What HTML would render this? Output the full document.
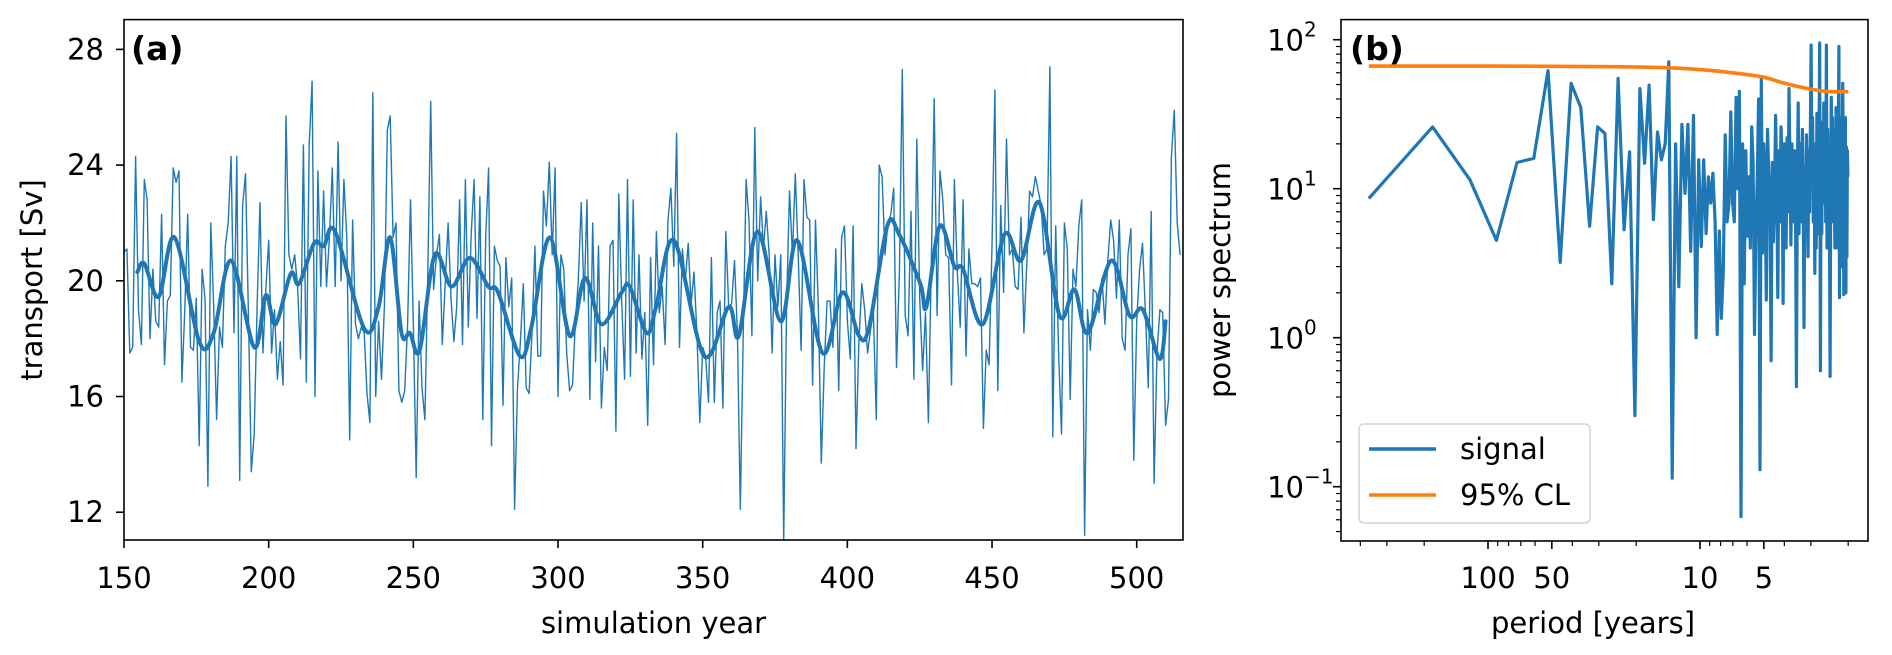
<!DOCTYPE html>
<html><head><meta charset="utf-8"><style>
html,body{margin:0;padding:0;background:#fff;}
svg{display:block;font-family:"DejaVu Sans","Liberation Sans",sans-serif;}
</style></head><body>
<svg id="fig" width="1892" height="655" viewBox="0 0 1892 655" xmlns="http://www.w3.org/2000/svg">
<rect width="1892" height="655" fill="#fff"/>
<g id="pa"></g>
<g id="pb"></g>
</svg>
<script>
// ---------- Panel (a) data ----------
const rawStartYear = 150;
const rawValues = [
21.0,21.1,17.5,17.7,24.3,19,17.8,23.5,22.8,18,20.4,18.6,18.4,22.3,17.1,19.3,19.5,23.9,23.4,23.8,
16.5,19,22.3,17.7,17.6,19.4,14.3,20.4,19.4,12.9,22,19.1,15.2,18.4,17.7,21.2,22,24.3,18.2,24.3,
13.1,22.6,23.7,18.9,13.4,14.7,19.1,22.7,17.5,19.7,21.4,17.5,19,16.6,17.9,16.4,25.7,20.9,20.4,20.9,
19.8,17.3,24.7,16.5,24.7,26.9,16,23.8,19.8,23.1,19.8,21.5,23.9,19.8,24.8,20,23.5,21.5,14.5,22.1,
18.5,18,18.4,18.2,16.1,15.1,26.5,16,18.6,16.6,19.1,25.2,25.7,21.5,22,16.2,15.8,16.2,18.5,22.8,
18.6,13.2,19.3,16.3,15.2,20.3,26.2,19.7,20.9,21.6,17.8,19.9,22,19.4,17.9,19.1,22.8,17.8,23.5,18.4,
21.6,23.5,18.7,22.9,15.2,21.5,23.9,14.3,21.2,20.7,20.5,15.7,20.8,19.1,20.1,12.1,16.3,17.9,19.9,16.3,
16.1,18.2,21.2,17.4,17.4,23.1,21.9,24.1,20.9,23.9,16,20.9,20.4,17.5,16.2,16.4,18.6,20,22.7,19.3,
22.8,15.9,22,17.2,21.2,15.6,17.7,16.9,21.2,21.4,14.8,23,19.3,16.6,23.5,16.7,22.8,17.5,20.9,17.3,
18.9,15,20.8,17.1,21.7,18.9,19.8,17.8,22.1,23.2,20.5,25.1,17.7,21.1,20,21.3,19.2,20.3,18.2,15.1,
17.7,17.4,15.8,20.8,15.8,18.9,19.3,15.6,21.7,19.1,19.2,20.7,18.2,12.1,18.1,23.5,22.1,18.1,25.3,20,
22.9,21.1,22.4,20.9,17.5,20.9,19.1,20.9,11.0,19.2,23.1,20.9,23.7,20.9,17.6,23.5,22.2,22.1,16.4,22.1,
19,13.7,17,19.3,19.3,17.7,21.1,16.2,21.5,21.9,18.6,17.3,21.9,14.2,17.9,19.9,19,17.5,18.3,18.9,
15.2,24,23.6,20.9,22,22.3,23.2,17,20.3,27.3,18.8,18.1,22.4,16.6,24.9,19.4,16.9,18.9,15.1,20.6,
26.3,18.8,23.8,22.8,20.9,20.8,16.4,23.5,20.3,18.4,22.8,17.4,21.1,19.9,19.9,19.8,20.1,14.9,17.6,17.1,
21.2,26.6,16.2,22.6,19.6,24.9,20.9,21.1,19.8,19.7,22.2,18.2,20.6,23.1,22.9,23.6,23.1,22.6,20.9,21.1,
27.4,14.6,21.9,17.5,14.7,22,21.1,15.9,20.4,19.8,21.9,22.8,11.2,19,17.6,19.7,19.6,18.9,20.1,18.5,
20.7,22.1,21.4,19.4,22.1,18,17.6,20.9,21.8,13.8,18.6,20.4,21.3,18.9,16.3,22.4,13,17.5,19,18.9,
15,15.9,24.3,25.9,22,20.9
];
const smoothYears = [154.6,157,162,167.5,176,181,187,195,199,202.4,207.6,210.5,215.7,219,223,233,238,242,
245.9,248.8,252.2,257.4,263.2,269.5,275.9,279.3,286.8,290.8,297.2,304,309.3,315,322,324.8,330.6,
333.9,340.1,350.5,359,362.5,368.9,377,382.7,391.4,398.3,404,407.5,413.8,417.9,425.2,427.3,431.9,
437,440,446.8,454.3,460,466.4,473.3,478.5,483.1,491.2,497.5,502.1,507.9,510];
const smoothValues = [20.3,20.6,19.45,21.5,17.9,18.2,20.7,17.7,19.5,18.5,20.25,19.9,21.3,21.2,21.7,18.35,19.1,21.5,
18.2,18.2,17.6,20.9,19.8,20.8,19.8,19.6,17.4,18.4,21.5,18.1,20.1,18.5,19.6,19.8,18.2,
19.1,21.4,17.4,19.1,18.1,21.7,18.6,21.4,17.5,19.6,18.1,18.4,21.9,21.6,19.9,19.1,21.9,
20.5,20.4,18.5,21.6,20.7,22.7,18.8,19.7,18.2,20.7,18.8,19.0,17.3,18.6];
const aXTicks = [150,200,250,300,350,400,450,500];
const aYTicks = [12,16,20,24,28];

// ---------- Panel (b) data ----------
const specValues = [
8.6,26,11.5,4.5,15,16,62,3.2,51,35,5.6,26,23.5,2.3,55,5.3,17.7,0.3,47,14.8,
49.6,6.2,24,15.6,20,71,0.114,20,2.2,27,9.3,27,3.8,31,1.0,15.6,4.1,15.6,5,12,
8,12.7,6,1.05,5.2,1.35,2.8,23,6.0,8,32.7,8.0,6,41,10,45,0.063,20,2.3,18,
4.8,12,4,26,15,1.05,5,12,40,0.13,56,3.7,20,10,1.79,25,12.7,8,0.70,15,
4.4,9,31,12,1.86,18,6,26,15,1.7,20,12.7,4,22,7,47,14,4.2,20,6,
12.7,18,8,0.47,10,37.6,5,20,6,15.6,25,9,1.17,14,6,23,12,3.5,18,7,
22,92,15,30,6,20,2.7,10,4,32,15,5,25,95,0.6,20,5,28,8,37.6,
10,30,6,92,4,25,9,20,5,0.55,12,41,6,30,8,22,10,4.0,15,35,
6,25,4,18,90,1.86,30,6,20,3,15,51,18,1.95,25,4,30,2,19,3.5,
18,12];
const specRecordLength = 365;
const clPeriods = [400,100,30,15,10,7,5,4,3,2.5,2];
const clValues = [66.5,66.5,66,65,63,60,56,51,46.5,45,44.8];
const bXTicks = [100,50,10,5];
const bXMinor = [400,300,200,90,80,70,60,40,30,20,9,8,7,6,4,3,2];
const bYDecades = [-1,0,1,2];

const NS="http://www.w3.org/2000/svg";
const FS=29;
function mk(parent,tag,attrs,text){const e=document.createElementNS(NS,tag);for(const k in attrs)e.setAttribute(k,attrs[k]);if(text!==undefined)e.textContent=text;parent.appendChild(e);return e;}

// ---------- Panel (a) ----------
const A={l:124,r:1183,t:19.6,b:540,x0:150,x1:516,y0:11.04,y1:29.03};
const ax=v=>A.l+(v-A.x0)/(A.x1-A.x0)*(A.r-A.l);
const ay=v=>A.b-(v-A.y0)/(A.y1-A.y0)*(A.b-A.t);
const pa=document.getElementById('pa');
const clipA=mk(pa,'clipPath',{id:'clipA'});mk(clipA,'rect',{x:A.l,y:A.t,width:A.r-A.l,height:A.b-A.t});
let d='';rawValues.forEach((v,i)=>{d+=(i?'L':'M')+ax(rawStartYear+i).toFixed(1)+' '+ay(v).toFixed(1);});
const rawLine=mk(pa,'path',{d:d,fill:'none',stroke:'#1f77b4','stroke-width':1.4,'clip-path':'url(#clipA)','stroke-linejoin':'round'});


const pts=smoothYears.map((y,i)=>[ax(y),ay(smoothValues[i])]);
let s='M'+pts[0][0].toFixed(1)+' '+pts[0][1].toFixed(1);
for(let i=0;i<pts.length-1;i++){const p0=pts[Math.max(0,i-1)],p1=pts[i],p2=pts[i+1],p3=pts[Math.min(pts.length-1,i+2)];
const c1=[p1[0]+(p2[0]-p0[0])/6,p1[1]+(p2[1]-p0[1])/6],c2=[p2[0]-(p3[0]-p1[0])/6,p2[1]-(p3[1]-p1[1])/6];
s+='C'+c1.map(n=>n.toFixed(1)).join(' ')+' '+c2.map(n=>n.toFixed(1)).join(' ')+' '+p2[0].toFixed(1)+' '+p2[1].toFixed(1);}
const smLine=mk(pa,'path',{d:s,fill:'none',stroke:'#1f77b4','stroke-width':4,'stroke-linejoin':'round','stroke-linecap':'round'});


const frA=mk(pa,'rect',{x:A.l,y:A.t,width:A.r-A.l,height:A.b-A.t,fill:'none',stroke:'#000','stroke-width':1.6});


aXTicks.forEach(t=>{const x=ax(t);mk(pa,'line',{x1:x,x2:x,y1:A.b,y2:A.b+8,stroke:'#000','stroke-width':1.6});
const tx=mk(pa,'text',{x:x,y:588,'font-size':FS,'text-anchor':'middle',fill:'#000'},String(t));

});
aYTicks.forEach(t=>{const y=ay(t);mk(pa,'line',{x1:A.l-8,x2:A.l,y1:y,y2:y,stroke:'#000','stroke-width':1.6});
const tx=mk(pa,'text',{x:A.l-20,y:y+10,'font-size':FS,'text-anchor':'end',fill:'#000'},String(t));

});
const xlA=mk(pa,'text',{x:(A.l+A.r)/2,y:633,'font-size':FS,'text-anchor':'middle'},'simulation year');


const ylA=mk(pa,'text',{x:0,y:0,'font-size':FS,'text-anchor':'middle',transform:'translate(42,280) rotate(-90)'},'transport [Sv]');


const lbA=mk(pa,'text',{x:131,y:60,'font-size':33,'font-weight':'bold'},'(a)');



// ---------- Panel (b) ----------
const B={l:1341,r:1868,t:19.6,b:541};
const bx=P=>1488+212*Math.log10(100/P);
const by=v=>39.7-(Math.log10(v)-2)*149;
const pb=document.getElementById('pb');
const clipB=mk(pb,'clipPath',{id:'clipB'});mk(clipB,'rect',{x:B.l,y:B.t,width:B.r-B.l,height:B.b-B.t});
let ds='';specValues.forEach((v,i)=>{const P=specRecordLength/(i+1);ds+=(i?'L':'M')+bx(P).toFixed(1)+' '+by(v).toFixed(1);});
const sp=mk(pb,'path',{d:ds,fill:'none',stroke:'#1f77b4','stroke-width':3.2,'stroke-linejoin':'round','clip-path':'url(#clipB)'});


const cP=[];for(let i=0;i<clPeriods.length;i++)cP.push([bx(Math.min(clPeriods[i],specRecordLength)),by(clValues[i])]);
let cs='M'+cP[0][0].toFixed(1)+' '+cP[0][1].toFixed(1);
for(let i=0;i<cP.length-1;i++){const p0=cP[Math.max(0,i-1)],p1=cP[i],p2=cP[i+1],p3=cP[Math.min(cP.length-1,i+2)];
const c1=[p1[0]+(p2[0]-p0[0])/6,p1[1]+(p2[1]-p0[1])/6],c2=[p2[0]-(p3[0]-p1[0])/6,p2[1]-(p3[1]-p1[1])/6];
cs+='C'+c1.map(n=>n.toFixed(1)).join(' ')+' '+c2.map(n=>n.toFixed(1)).join(' ')+' '+p2[0].toFixed(1)+' '+p2[1].toFixed(1);}
const cl=mk(pb,'path',{d:cs,fill:'none',stroke:'#ff7f0e','stroke-width':3.6,'clip-path':'url(#clipB)'});


const frB=mk(pb,'rect',{x:B.l,y:B.t,width:B.r-B.l,height:B.b-B.t,fill:'none',stroke:'#000','stroke-width':1.6});


bXTicks.forEach(t=>{const x=bx(t);mk(pb,'line',{x1:x,x2:x,y1:B.b,y2:B.b+8,stroke:'#000','stroke-width':1.6});
const tx=mk(pb,'text',{x:x,y:588,'font-size':FS,'text-anchor':'middle'},String(t));

});
bXMinor.forEach(t=>{const x=bx(t);mk(pb,'line',{x1:x,x2:x,y1:B.b,y2:B.b+5,stroke:'#000','stroke-width':1.2});});
bYDecades.forEach(e=>{const y=by(Math.pow(10,e));mk(pb,'line',{x1:B.l-8,x2:B.l,y1:y,y2:y,stroke:'#000','stroke-width':1.6});
const tx=mk(pb,'text',{x:1304,y:y+11,'font-size':FS,'text-anchor':'end'},'10');


const sup=mk(pb,'text',{x:1304,y:y-3,'font-size':20,'text-anchor':'start'},e<0?'\u2212'+Math.abs(e):String(e));

});
for(let e=-2;e<=2;e++)for(let m=2;m<=9;m++){const y=by(m*Math.pow(10,e));if(y>B.t&&y<B.b)mk(pb,'line',{x1:B.l-5,x2:B.l,y1:y,y2:y,stroke:'#000','stroke-width':1.2});}
const xlB=mk(pb,'text',{x:1593,y:633,'font-size':FS,'text-anchor':'middle'},'period [years]');


const ylB=mk(pb,'text',{x:0,y:0,'font-size':FS,'text-anchor':'middle',transform:'translate(1230,280) rotate(-90)'},'power spectrum');


const lbB=mk(pb,'text',{x:1350,y:60,'font-size':33,'font-weight':'bold'},'(b)');


const lg=mk(pb,'g',{});


mk(lg,'rect',{x:1359,y:424,width:231,height:99,rx:5,fill:'#fff','fill-opacity':0.8,stroke:'#d4d4d4','stroke-width':1.5});
mk(lg,'line',{x1:1369,x2:1436,y1:449,y2:449,stroke:'#1f77b4','stroke-width':3.6});
const l1=mk(lg,'text',{x:1460,y:459,'font-size':FS},'signal');


mk(lg,'line',{x1:1369,x2:1436,y1:495,y2:495,stroke:'#ff7f0e','stroke-width':3.6});
const l2=mk(lg,'text',{x:1460,y:505,'font-size':FS},'95% CL');


</script>
</body></html>
